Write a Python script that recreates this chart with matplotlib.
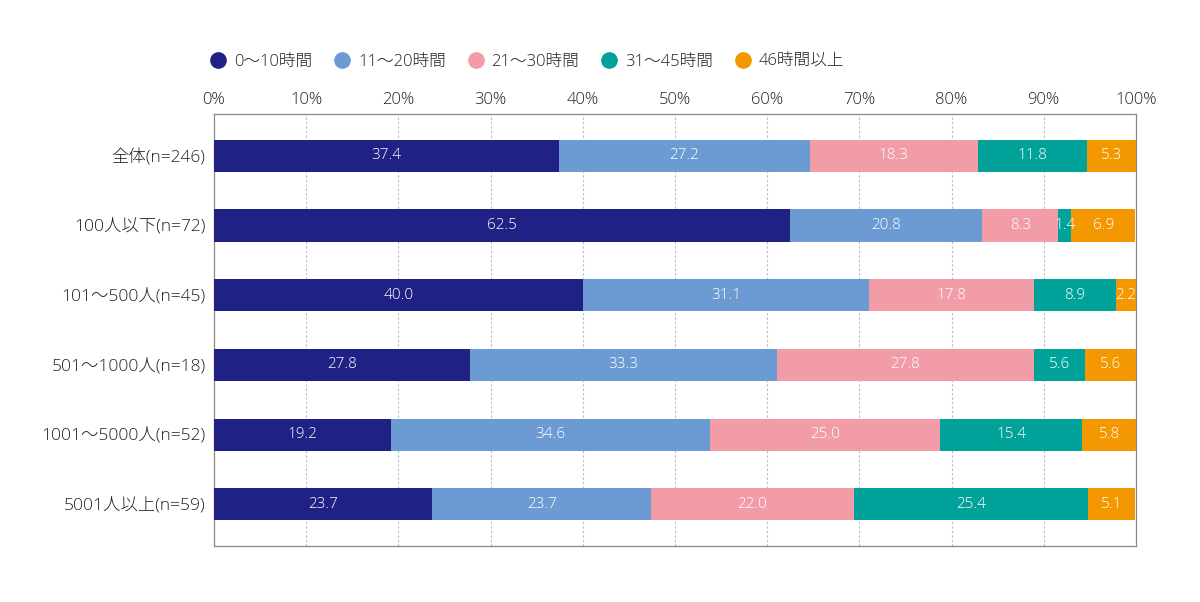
import matplotlib
matplotlib.use('Agg')
import matplotlib.pyplot as plt
from matplotlib.lines import Line2D
import numpy as np

plt.rcParams['font.family'] = ['Open Sans', 'Noto Sans CJK JP', 'DejaVu Sans']

# Data
categories = ['全体(n=246)', '100人以下(n=72)', '101〜500人(n=45)',
              '501〜1000人(n=18)', '1001〜5000人(n=52)', '5001人以上(n=59)']
series_names = ['0〜10時間', '11〜20時間', '21〜30時間', '31〜45時間', '46時間以上']
h0_10 = [37.4, 62.5, 40.0, 27.8, 19.2, 23.7]
h11_20 = [27.2, 20.8, 31.1, 33.3, 34.6, 23.7]
h21_30 = [18.3, 8.3, 17.8, 27.8, 25.0, 22.0]
h31_45 = [11.8, 1.4, 8.9, 5.6, 15.4, 25.4]
h46 = [5.3, 6.9, 2.2, 5.6, 5.8, 5.1]
colors = ['#1f2185', '#6b9bd2', '#f29ca8', '#00a29a', '#f39800']

series = [h0_10, h11_20, h21_30, h31_45, h46]

fig = plt.figure(figsize=(12, 6.02), dpi=100)
ax = fig.add_axes([0.1783, 0.093, 0.7683, 0.7176])

y = np.arange(len(categories))
left = np.zeros(len(categories))
for vals, c in zip(series, colors):
    vals = np.array(vals)
    ax.barh(y, vals, left=left, height=0.46, color=c, zorder=3)
    for yi, l, v in zip(y, left, vals):
        ax.text(l + v / 2, yi, '%.1f' % v, ha='center', va='center',
                color='white', fontsize=11, fontweight='light', zorder=4)
    left += vals

ax.set_xlim(0, 100)
ax.set_ylim(5.6, -0.6)
ax.set_yticks(y)
ax.set_yticklabels(categories, fontsize=12.5, fontweight='light', color='#222222')
ax.set_xticks(range(0, 101, 10))
ax.set_xticklabels(['%d%%' % v for v in range(0, 101, 10)], fontsize=12,
                   fontweight='light', color='#222222')
ax.xaxis.tick_top()
ax.tick_params(axis='both', length=0)
ax.tick_params(axis='y', pad=6)
ax.tick_params(axis='x', pad=4)
for x in range(10, 100, 10):
    ax.axvline(x, color='#bbbbbb', lw=0.8, ls=(0, (2, 2)), zorder=1)
for s in ax.spines.values():
    s.set_color('#888888')
    s.set_linewidth(0.9)

handles = [Line2D([], [], marker='o', ls='', markersize=11, color=c) for c in colors]
fig.legend(handles, series_names, loc='center', bbox_to_anchor=(527 / 1200, 1 - 62 / 602),
           ncol=5, frameon=False, handlelength=1.0, handletextpad=0.45,
           columnspacing=1.3, prop={'size': 12, 'weight': 'light'},
           labelcolor='#222222')

fig.savefig('out.png', dpi=100)
